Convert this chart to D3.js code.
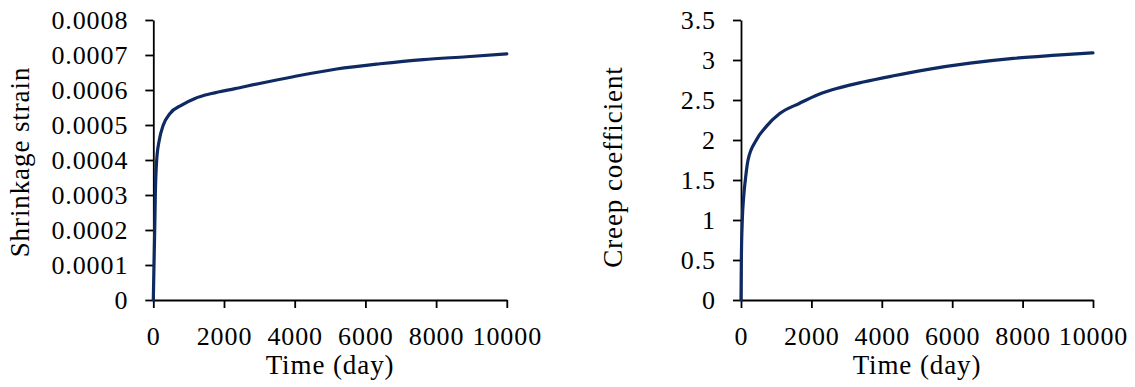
<!DOCTYPE html>
<html>
    <head>
        <meta charset="utf-8" />
        <script src="https://d3js.org/d3.v7.min.js"></script>
        <style type="text/css">
            body {
                margin: 0;
                background-color: white;
            }

            svg#mainSvg {
                display: block;
                background-color: white;
            }

            .axis path,
            .axis line {
                stroke: black;
                stroke-width: 1.8;
            }

            .axis text {
                font-family: "Liberation Serif", "Times New Roman", serif;
                font-size: 26px;
                letter-spacing: 0.9px;
                fill: black;
            }

            text.title {
                font-family: "Liberation Serif", "Times New Roman", serif;
                font-size: 27px;
                letter-spacing: 0.9px;
                fill: black;
            }

            path.curve {
                fill: none;
                stroke: #0f2a62;
                stroke-width: 3.2;
                stroke-linejoin: round;
                stroke-linecap: round;
            }
        </style>
    </head>

    <body>
        <svg id="mainSvg" width="1135" height="387"></svg>

        <!-- Values -->
        <script type="text/javascript">
            // Shared time axis
            const timeTicks = [0, 2000, 4000, 6000, 8000, 10000];
            const timeTickLabels = ["0", "2000", "4000", "6000", "8000", "10000"];

            // Shrinkage strain vs time
            const shrinkDays = [
                0, 20, 40, 57, 96, 170, 283, 472, 803, 1180, 1652, 2311,
                3961, 5188, 6413, 7638, 8865, 10000,
            ];
            const shrinkStrain = [
                0, 0.0001, 0.0002, 0.0003, 0.0004, 0.000457, 0.0005,
                0.000533, 0.000557, 0.000576, 0.00059, 0.000604,
                0.000638, 0.00066, 0.000675, 0.000687, 0.000695, 0.000703,
            ];
            const shrinkTicks = [
                0, 0.0001, 0.0002, 0.0003, 0.0004, 0.0005, 0.0006, 0.0007,
                0.0008,
            ];
            const shrinkTickLabels = [
                "0", "0.0001", "0.0002", "0.0003", "0.0004", "0.0005",
                "0.0006", "0.0007", "0.0008",
            ];

            // Creep coefficient vs time
            const creepDays = [
                0, 10, 37, 76, 123, 200, 436, 720, 1100, 1667, 2200, 2813,
                3475, 4300, 5275, 6506, 7736, 8968, 10000,
            ];
            const creepCoef = [
                0, 0.5, 1.0, 1.29, 1.5, 1.75, 2.0, 2.17, 2.33, 2.46, 2.57,
                2.655, 2.725, 2.8, 2.88, 2.96, 3.02, 3.06, 3.09,
            ];
            const creepTicks = [0, 0.5, 1, 1.5, 2, 2.5, 3, 3.5];
            const creepTickLabels = ["0", "0.5", "1", "1.5", "2", "2.5", "3", "3.5"];
        </script>

        <!-- Draw the two panels -->
        <script type="text/javascript">
            const svg = d3.select("#mainSvg");

            function drawPanel(p) {
                const g = svg
                    .append("g")
                    .attr("transform", "translate(" + p.left + "," + p.top + ")");
                const h = p.bottom - p.top;

                const x = d3.scaleLinear().domain([0, 10000]).range([0, p.width]);
                const y = d3.scaleLinear().domain(p.yDomain).range([h, 0]);

                // y axis
                g.append("g")
                    .attr("class", "axis")
                    .call(
                        d3
                            .axisLeft(y)
                            .tickValues(p.yTicks)
                            .tickFormat((d, i) => p.yLabels[i])
                            .tickSize(8)
                            .tickSizeOuter(0)
                            .tickPadding(17)
                    );

                // x axis
                g.append("g")
                    .attr("class", "axis")
                    .attr("transform", "translate(0," + h + ")")
                    .call(
                        d3
                            .axisBottom(x)
                            .tickValues(timeTicks)
                            .tickFormat((d, i) => timeTickLabels[i])
                            .tickSize(8)
                            .tickSizeOuter(0)
                            .tickPadding(19)
                    );

                // the curve
                const line = d3
                    .line()
                    .x((d) => x(d[0]))
                    .y((d) => y(d[1]))
                    .curve(d3.curveMonotoneX);
                g.append("path")
                    .attr("class", "curve")
                    .attr("d", line(d3.zip(p.xs, p.ys)));

                // axis titles
                g.append("text")
                    .attr("class", "title")
                    .attr("text-anchor", "middle")
                    .attr("x", p.width / 2)
                    .attr("y", 374 - p.top)
                    .text("Time (day)");

                g.append("text")
                    .attr("class", "title")
                    .attr("text-anchor", "middle")
                    .attr(
                        "transform",
                        "translate(" + p.yTitleX + "," + (p.yTitleY - p.top) + ") rotate(-90)"
                    )
                    .text(p.yTitle);
            }

            drawPanel({
                left: 153.3,
                width: 353.5,
                top: 20,
                bottom: 300,
                yDomain: [0, 0.0008],
                yTicks: shrinkTicks,
                yLabels: shrinkTickLabels,
                xs: shrinkDays,
                ys: shrinkStrain,
                yTitle: "Shrinkage strain",
                yTitleX: 29 - 153.3,
                yTitleY: 162,
            });

            drawPanel({
                left: 741,
                width: 352,
                top: 20,
                bottom: 300,
                yDomain: [0, 3.5],
                yTicks: creepTicks,
                yLabels: creepTickLabels,
                xs: creepDays,
                ys: creepCoef,
                yTitle: "Creep coefficient",
                yTitleX: 621.5 - 741,
                yTitleY: 167,
            });
        </script>
    </body>
</html>
